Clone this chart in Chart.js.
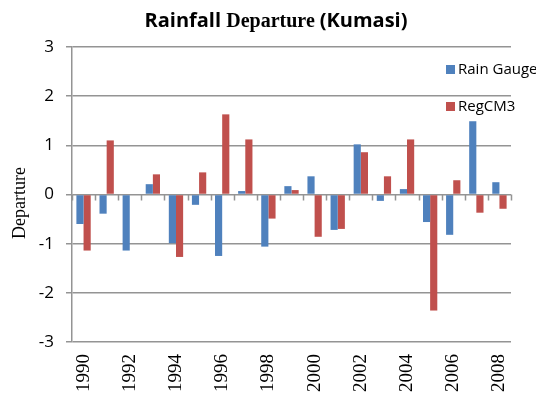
<!DOCTYPE html>
<html>
<head>
<meta charset="utf-8">
<script src="https://cdn.jsdelivr.net/npm/chart.js@4"></script>
<style>
  html, body { margin: 0; padding: 0; background: #fff; }
  #wrap { width: 536px; height: 405px; }
</style>
</head>
<body>
<div id="wrap"><canvas id="rainChart" width="536" height="405"></canvas></div>
<script>
const years = ['1990', '1991', '1992', '1993', '1994', '1995', '1996', '1997', '1998', '1999',
               '2000', '2001', '2002', '2003', '2004', '2005', '2006', '2007', '2008'];
const rainGauge = [-0.60, -0.39, -1.14, 0.21, -0.99, -0.21, -1.25, 0.07, -1.06, 0.17,
                   0.37, -0.72, 1.02, -0.13, 0.11, -0.56, -0.82, 1.49, 0.25];
const regCM3 = [-1.14, 1.10, 0, 0.41, -1.27, 0.45, 1.63, 1.12, -0.49, 0.09,
                -0.86, -0.70, 0.86, 0.37, 1.12, -2.36, 0.29, -0.37, -0.29];
const yTicks = [-3, -2, -1, 0, 1, 2, 3];

const BLUE = '#4F81BD';
const RED = '#C0504D';
const GRID = '#949494';
const SANS = "'Open Sans', 'Liberation Sans', sans-serif";
const SERIF = "'Liberation Serif', 'DejaVu Serif', serif";

// title mixes sans and serif like the original
const titleParts = [
    { text: 'Rainfall ', font: 'bold 20px ' + SANS },
    { text: 'Departure ', font: 'bold 20px ' + SERIF },
    { text: '(Kumasi)', font: 'bold 20px ' + SANS }
];

const extras = {
    id: 'extras',
    afterDraw: chart => {
        const ctx = chart.ctx;
        const x = chart.scales.x;
        const y = chart.scales.y;
        ctx.save();

        // title
        let total = 0;
        titleParts.forEach(p => { ctx.font = p.font; total += ctx.measureText(p.text).width; });
        let tx = 276 - total / 2;
        ctx.fillStyle = '#000';
        ctx.textBaseline = 'alphabetic';
        titleParts.forEach(p => {
            ctx.font = p.font;
            ctx.fillText(p.text, tx, 27);
            tx += ctx.measureText(p.text).width;
        });

        // y axis title
        ctx.save();
        ctx.translate(20, 203);
        ctx.rotate(-Math.PI / 2);
        ctx.font = '18px ' + SERIF;
        ctx.textAlign = 'center';
        ctx.textBaseline = 'middle';
        ctx.fillText('Departure', 0, 0);
        ctx.restore();

        // tick marks along the zero line at category boundaries
        const zero = y.getPixelForValue(0);
        const step = (x.right - x.left) / years.length;
        ctx.strokeStyle = GRID;
        ctx.lineWidth = 1.5;
        ctx.beginPath();
        for (let i = 0; i <= years.length; i++) {
            const px = Math.round(x.left + i * step) + 0.5;
            ctx.moveTo(px, zero);
            ctx.lineTo(px, zero + 6);
        }
        ctx.stroke();

        // legend
        const items = [
            { label: 'Rain Gauge', color: BLUE, y: 70 },
            { label: 'RegCM3', color: RED, y: 107 }
        ];
        ctx.font = '15px ' + SANS;
        ctx.textAlign = 'left';
        ctx.textBaseline = 'middle';
        items.forEach(it => {
            ctx.fillStyle = it.color;
            ctx.fillRect(446, it.y - 5, 9, 9);
            ctx.fillStyle = '#000';
            ctx.fillText(it.label, 458, it.y);
        });

        ctx.restore();
    }
};

const chart = new Chart(document.getElementById('rainChart').getContext('2d'), {
    type: 'bar',
    data: {
        labels: years,
        datasets: [
            { label: 'Rain Gauge', data: rainGauge, backgroundColor: BLUE },
            { label: 'RegCM3', data: regCM3, backgroundColor: RED }
        ]
    },
    options: {
        responsive: false,
        animation: false,
        events: [],
        layout: { padding: { left: 8, right: 25, top: 47, bottom: 0 } },
        datasets: { bar: { categoryPercentage: 0.62, barPercentage: 1 } },
        plugins: {
            legend: { display: false },
            title: { display: false },
            tooltip: { enabled: false }
        },
        scales: {
            x: {
                grid: { display: false },
                border: { display: false },
                ticks: {
                    autoSkip: false,
                    minRotation: 90,
                    maxRotation: 90,
                    padding: 4,
                    color: '#000',
                    font: { family: SERIF, size: 19 },
                    callback: (v, i) => i % 2 === 0 ? years[i] : ''
                },
                afterFit: s => { s.height = 63; }
            },
            y: {
                min: -3,
                max: 3,
                afterBuildTicks: s => { s.ticks = yTicks.map(v => ({ value: v })); },
                grid: { color: GRID, lineWidth: 1.5, tickLength: 6, tickColor: GRID },
                border: { color: GRID, width: 1.5 },
                ticks: {
                    color: '#000',
                    padding: 12,
                    font: { family: SANS, size: 17 }
                },
                afterFit: s => { s.width = 64; }
            }
        }
    },
    plugins: [extras]
});
</script>
</body>
</html>
